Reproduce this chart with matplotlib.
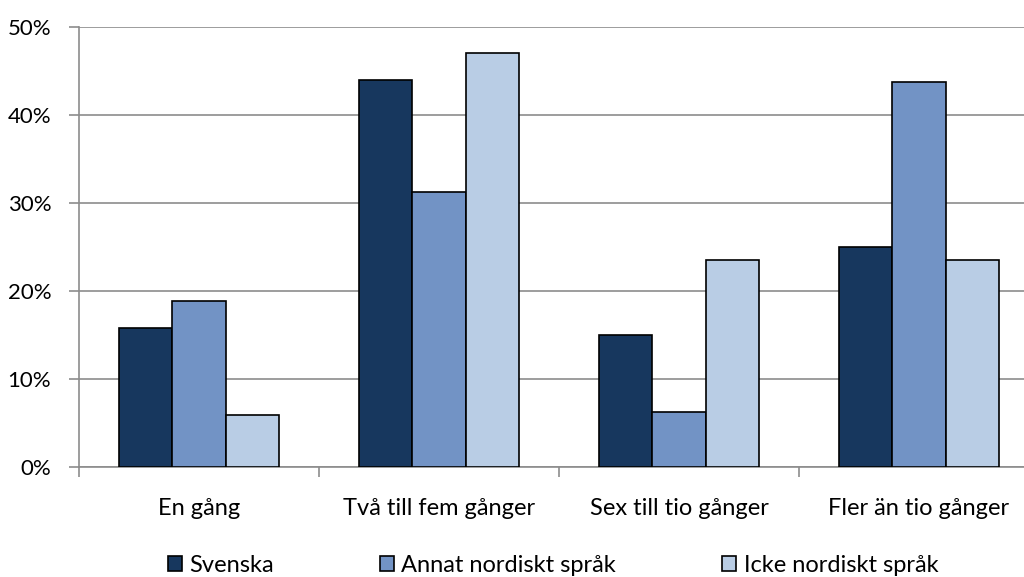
import matplotlib.pyplot as plt
import numpy as np

plt.rcParams['font.family'] = ['Lato', 'DejaVu Sans']

categories = ['En gång', 'Två till fem gånger', 'Sex till tio gånger', 'Fler än tio gånger']
series_names = ['Svenska', 'Annat nordiskt språk', 'Icke nordiskt språk']
svenska = [15.8, 44.0, 15.0, 25.0]
annat = [18.9, 31.2, 6.3, 43.8]
icke = [5.9, 47.1, 23.5, 23.5]
yticks = [0, 10, 20, 30, 40, 50]
ytick_labels = ['0%', '10%', '20%', '30%', '40%', '50%']

COLORS = ['#17375E', '#7293C5', '#B9CDE5']
BAR_W = 0.223


def main():
    fig = plt.figure(figsize=(10.24, 5.77), dpi=100)
    # plot area runs a bit past the right edge, like the cropped original
    ax = fig.add_axes([79 / 1024, 1 - 467 / 577, 960 / 1024, 440 / 577])

    x = np.arange(len(categories))
    all_series = [svenska, annat, icke]
    for i, vals in enumerate(all_series):
        ax.bar(x + (i - 1) * BAR_W, vals, BAR_W, color=COLORS[i],
               edgecolor='black', linewidth=1.2, label=series_names[i], zorder=3)

    ax.set_xlim(-0.5, len(categories) - 0.5)
    ax.set_ylim(0, 50)
    ax.set_yticks(yticks)
    ax.set_yticklabels(ytick_labels, fontsize=16)
    ax.yaxis.grid(True, color='#8C8C8C', linewidth=1.2, zorder=0)

    # category labels centered, tick marks on the boundaries
    ax.set_xticks(np.arange(len(categories) + 1) - 0.5)
    ax.set_xticklabels([])
    ax.set_xticks(x, minor=True)
    ax.set_xticklabels(categories, minor=True, fontsize=17)
    ax.tick_params(axis='x', which='minor', length=0, pad=22)
    ax.tick_params(axis='x', which='major', length=7, color='#8C8C8C', width=1.2)
    ax.tick_params(axis='y', length=7, color='#8C8C8C', width=1.2, pad=13)

    for side in ['top', 'right']:
        ax.spines[side].set_visible(False)
    for side in ['left', 'bottom']:
        ax.spines[side].set_color('#8C8C8C')
        ax.spines[side].set_linewidth(1.2)

    fig.legend(loc='center', bbox_to_anchor=(553 / 1024, 1 - 565 / 577), ncol=3,
               frameon=False, fontsize=17, handlelength=0.6, handleheight=0.6,
               handletextpad=0.3, columnspacing=4.5, borderaxespad=0)

    fig.savefig('out.png', dpi=100)


if __name__ == '__main__':
    main()
